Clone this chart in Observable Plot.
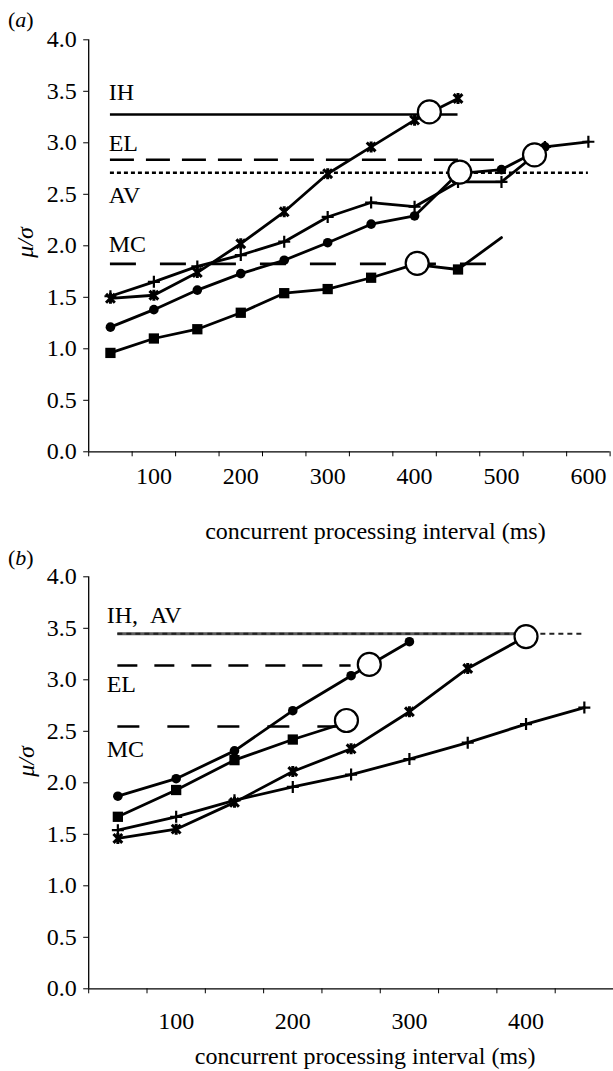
<!DOCTYPE html>
<html><head><meta charset="utf-8">
<script src="https://cdn.jsdelivr.net/npm/d3@7"></script>
<script src="https://cdn.jsdelivr.net/npm/@observablehq/plot@0.6"></script>
<style>
body{margin:0;background:#fff;}
#wrap{position:relative;width:613px;height:1071px;font-family:"Liberation Serif","Times New Roman",serif;color:#000;}
#wrap svg{position:absolute;left:0;}
.plab{position:absolute;left:8px;font-size:22px;line-height:22px;}
</style></head><body><div id="wrap"></div>
<script>
// ---------- data: panel (a) ----------
const catsA = [50,100,150,200,250,300,350,400,450,500,550,600];
const squareA = [0.96,1.10,1.19,1.35,1.54,1.58,1.69,1.82,1.77,2.08];
const dotA    = [1.21,1.38,1.57,1.73,1.86,2.03,2.21,2.29,2.70,2.74,2.96];
const plusA   = [1.51,1.65,1.80,1.91,2.04,2.28,2.42,2.38,2.62,2.62,2.96,3.01];
const starA   = [1.49,1.52,1.74,2.02,2.33,2.70,2.96,3.22,3.43];
const refNamesA = ["IH","EL","AV","MC"];
const refValA   = [3.275,2.835,2.709,1.825];
const refStartA = [50,50,50,50];
const refEndA   = [450,500,600,500];
const refLabelYA = [3.42,2.925,2.414,1.938];
const circleXA = [417,452,538,403];
const circleYA = [3.30,2.715,2.883,1.83];
const xTicksA  = [25,75,125,175,225,275,325,375,425,475,525,575,625];
const xLabelsA = [100,200,300,400,500,600];

// ---------- data: panel (b) ----------
const catsB = [50,100,150,200,250,300,350,400,450];
const dotB    = [1.87,2.04,2.31,2.70,3.04,3.37];
const squareB = [1.67,1.93,2.22,2.42,2.60];
const starB   = [1.46,1.55,1.81,2.11,2.33,2.69,3.11,3.42];
const plusB   = [1.54,1.67,1.83,1.96,2.08,2.23,2.39,2.57,2.73];
const refNamesB = ["IH","AV","EL","MC"];
const refValB   = [3.447,3.447,3.139,2.547];
const refStartB = [50,50,50,50];
const refEndB   = [400,450,250,250];
const labelTextB = ["IH,\u00a0\u00a0AV","EL","MC"];
const labelYB    = [3.556,2.877,2.249];
const circleXB = [265.6,246,400];
const circleYB = [3.149,2.605,3.42];
const xTicksB  = [25,75,125,175,225,275,325,375,425,475];
const xLabelsB = [100,200,300,400];

const yTicks = [0,0.5,1,1.5,2,2.5,3,3.5,4];
const xTitle = "concurrent processing interval (ms)";
const yTitle = "\u03bc/\u03c3";

// ---------- helpers ----------
const pts = (cats, vals) => vals.map((v, i) => ({x: cats[i], y: v}));
const plusSym = {draw(ctx, size){const r=Math.sqrt(size/Math.PI);ctx.moveTo(-r,0);ctx.lineTo(r,0);ctx.moveTo(0,-r);ctx.lineTo(0,r);}};
const starSym = {draw(ctx, size){const r=Math.sqrt(size/Math.PI);const a=r*0.8;ctx.moveTo(-a,-a);ctx.lineTo(a,a);ctx.moveTo(-a,a);ctx.lineTo(a,-a);ctx.moveTo(0,-r);ctx.lineTo(0,r);}};
const FONT = "'Liberation Serif', 'Times New Roman', serif";
const lineOpts = {x:"x", y:"y", stroke:"black", strokeWidth:2.8, strokeLinejoin:"round"};

function axes(xTicks, xLabels, labelPad) {
  return [
    Plot.ruleX([xTicks[0]], {stroke:"black", strokeWidth:1.3}),
    Plot.ruleY([0], {stroke:"black", strokeWidth:1.3}),
    Plot.axisY(yTicks, {tickSize:5, tickPadding:7, tickFormat:d=>d.toFixed(1), fontSize:24, label:null, stroke:"black", fill:"black"}),
    Plot.axisX(xTicks, {tickSize:5, tickFormat:()=>"", label:null, stroke:"black"}),
    Plot.axisX(xLabels, {tickSize:0, tickPadding:labelPad, fontSize:24, label:null, fill:"black"})
  ];
}

// ---------- panel (a) ----------
const refsA = refNamesA.map((n,i)=>({name:n, v:refValA[i], x1:refStartA[i], x2:refEndA[i]}));
const dashA = {IH:null, EL:"24,12", AV:"4,3", MC:"26,24"};
const sqA = pts(catsA, squareA);
const plotA = Plot.plot({
  width:613, height:545, marginLeft:88.2, marginRight:3.4, marginTop:39.3, marginBottom:93.7,
  x:{domain:[25,625]}, y:{domain:[0,4]},
  style:{fontFamily:FONT, fontSize:"24px", color:"black", background:"white", overflow:"visible"},
  marks:[
    ...axes(xTicksA, xLabelsA, 15),
    ...refsA.map(r => Plot.ruleY([r.v], {x1:r.x1, x2:r.x2, stroke:"black", strokeWidth:2.6, strokeDasharray:dashA[r.name]})),
    Plot.text(refNamesA, {text:d=>d, y:(d,i)=>refLabelYA[i], frameAnchor:"left", dx:20, textAnchor:"start", lineAnchor:"bottom", fontSize:24, fill:"black"}),
    Plot.line(sqA, lineOpts),
    Plot.line(pts(catsA, dotA), lineOpts),
    Plot.line(pts(catsA, plusA), lineOpts),
    Plot.line(pts(catsA, starA), lineOpts),
    Plot.dot(sqA.filter(d=>d.x<500), {x:"x", y:"y", symbol:"square", r:5.8, fill:"black"}),
    Plot.dot(pts(catsA, dotA), {x:"x", y:"y", symbol:"circle", r:4.8, fill:"black"}),
    Plot.dot(pts(catsA, plusA), {x:"x", y:"y", symbol:plusSym, r:6, fill:"none", stroke:"black", strokeWidth:2.2}),
    Plot.dot(pts(catsA, starA), {x:"x", y:"y", symbol:starSym, r:5.5, fill:"none", stroke:"black", strokeWidth:3}),
    Plot.dot(circleXA.map((x,i)=>({x, y:circleYA[i]})), {x:"x", y:"y", r:11.5, fill:"white", stroke:"black", strokeWidth:2.2}),
    Plot.text([xTitle], {text:d=>d, frameAnchor:"bottom", dx:26, dy:87, lineAnchor:"bottom", fontSize:24, fill:"black"}),
    Plot.text([yTitle], {text:d=>d, frameAnchor:"left", rotate:-90, dx:-63, dy:12, fontStyle:"italic", fontSize:24, fill:"black"})
  ]
});

// ---------- panel (b) ----------
const refsB = refNamesB.map((n,i)=>({name:n, v:refValB[i], x1:refStartB[i], x2:refEndB[i]}));
const styleB = {
  IH:{stroke:"#5a5a5a", strokeWidth:3, strokeDasharray:null},
  AV:{stroke:"#222", strokeWidth:2, strokeDasharray:"5,4"},
  EL:{stroke:"black", strokeWidth:2.6, strokeDasharray:"20,17"},
  MC:{stroke:"black", strokeWidth:2.6, strokeDasharray:"22,28"}
};
const sqBpts = pts(catsB, squareB);
const plotB = Plot.plot({
  width:613, height:526, marginLeft:88.2, marginRight:0, marginTop:31.3, marginBottom:82.7,
  x:{domain:[25,475]}, y:{domain:[0,4]},
  style:{fontFamily:FONT, fontSize:"24px", color:"black", background:"white", overflow:"visible"},
  marks:[
    ...axes(xTicksB, xLabelsB, 23),
    ...refsB.map(r => Plot.ruleY([r.v], {x1:r.x1, x2:r.x2, ...styleB[r.name]})),
    Plot.text(labelTextB, {text:d=>d, y:(d,i)=>labelYB[i], frameAnchor:"left", dx:18, textAnchor:"start", lineAnchor:"bottom", fontSize:24, fill:"black"}),
    Plot.line(sqBpts, lineOpts),
    Plot.line(pts(catsB, dotB), lineOpts),
    Plot.line(pts(catsB, plusB), lineOpts),
    Plot.line(pts(catsB, starB), lineOpts),
    Plot.dot(sqBpts, {x:"x", y:"y", symbol:"square", r:5.8, fill:"black"}),
    Plot.dot(pts(catsB, dotB), {x:"x", y:"y", symbol:"circle", r:4.8, fill:"black"}),
    Plot.dot(pts(catsB, plusB), {x:"x", y:"y", symbol:plusSym, r:6, fill:"none", stroke:"black", strokeWidth:2.2}),
    Plot.dot(pts(catsB, starB), {x:"x", y:"y", symbol:starSym, r:5.5, fill:"none", stroke:"black", strokeWidth:3}),
    Plot.dot(circleXB.map((x,i)=>({x, y:circleYB[i]})), {x:"x", y:"y", r:11.5, fill:"white", stroke:"black", strokeWidth:2.2}),
    Plot.text([xTitle], {text:d=>d, frameAnchor:"bottom", dx:14, dy:75, lineAnchor:"bottom", fontSize:24, fill:"black"}),
    Plot.text([yTitle], {text:d=>d, frameAnchor:"left", rotate:-90, dx:-62, dy:-6, fontStyle:"italic", fontSize:24, fill:"black"})
  ]
});

const wrap = document.getElementById("wrap");
plotA.style.top = "0px";
plotB.style.top = "545px";
wrap.appendChild(plotA);
wrap.appendChild(plotB);
const la = document.createElement("div"); la.className="plab"; la.style.top="9px"; la.innerHTML="(<i>a</i>)";
const lb = document.createElement("div"); lb.className="plab"; lb.style.top="547px"; lb.innerHTML="(<i>b</i>)";
wrap.appendChild(la); wrap.appendChild(lb);
</script></body></html>
